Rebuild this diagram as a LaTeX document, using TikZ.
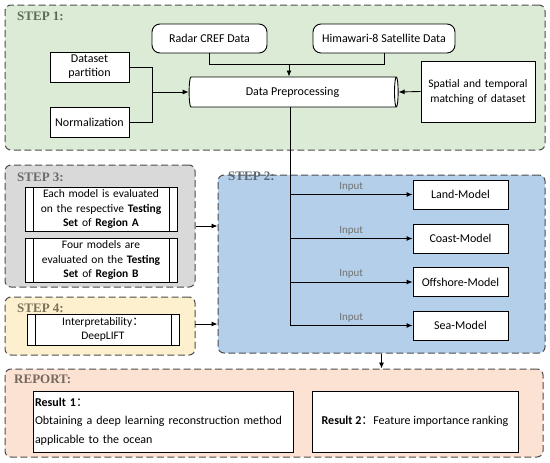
\documentclass[tikz,border=0pt]{standalone}
\usepackage{fontspec}
\setmainfont{Carlito}
\newfontfamily\titlefont{Liberation Serif}
\newfontfamily\cjk{Noto Sans CJK SC}
\usetikzlibrary{calc,arrows.meta,positioning,shapes.geometric}
\tikzstyle{arrow} = [line width=0.9pt,->,>={Latex[length=6pt,width=5pt]}]
\tikzstyle{panel} = [draw=black!70, line width=1pt, dash pattern=on 7pt off 3.5pt, rounded corners=6pt, inner sep=0pt]
\tikzstyle{box} = [draw, line width=0.9pt, fill=white, inner sep=2pt, align=center]
\tikzstyle{proc} = [box, font=\fontsize{11.5}{14.5}\selectfont, path picture={
    \draw[line width=0.9pt] ([xshift=8pt]path picture bounding box.north west) -- ([xshift=8pt]path picture bounding box.south west)
    ([xshift=-8pt]path picture bounding box.north east) -- ([xshift=-8pt]path picture bounding box.south east);}]
\tikzstyle{steptitle} = [anchor=base west, inner sep=0pt, font=\titlefont\bfseries\fontsize{13}{15}\selectfont]
\tikzstyle{inputlbl} = [above, inner sep=3pt, text=black!55, font=\fontsize{11}{12}\selectfont]
\definecolor{stepgreen}{HTML}{DCEBD6}
\definecolor{stepgray}{HTML}{D9D9D9}
\definecolor{stepyellow}{HTML}{FDF0CF}
\definecolor{stepblue}{HTML}{B4CFEA}
\definecolor{steporange}{HTML}{FCE2D2}
\definecolor{titlegreen}{HTML}{5E6B5A}
\definecolor{titlegray}{HTML}{6B6B6B}
\definecolor{titleyellow}{HTML}{7B7159}
\definecolor{titleblue}{HTML}{5C6670}
\definecolor{titleorange}{HTML}{76675F}

\begin{document}
\begin{tikzpicture}[x=1pt, y=-1pt, font=\fontsize{12}{15}\selectfont]

    \useasboundingbox (0,0) rectangle (550,463);

    % panels
    \node[panel, fill=stepgreen, minimum width=540, minimum height=145] (S1) at (275,77.5) {};
    \node[panel, fill=stepgray, minimum width=190, minimum height=122] (S3) at (100,226) {};
    \node[panel, fill=stepyellow, minimum width=190, minimum height=58] (S4) at (100,326) {};
    \node[panel, fill=stepblue, minimum width=327, minimum height=178] (S2) at (381.5,264) {};
    \node[panel, fill=steporange, minimum width=538, minimum height=88] (R) at (274,413) {};

    \node[steptitle, text=titlegreen] (T1) at (17,20) {STEP 1:};
    \node[steptitle, text=titlegray] (T3) at (17,181) {STEP 3:};
    \node[steptitle, text=titleyellow] (T4) at (17,312) {STEP 4:};
    \node[steptitle, text=titleblue] (T2) at (228,180) {STEP 2:};
    \node[steptitle, text=titleorange] (TR) at (14,383) {REPORT:};

    % step 1
    \node[box, rounded corners=8pt, minimum width=115, minimum height=29] (radar) at (209.5,38.5) {Radar CREF Data};
    \node[box, rounded corners=8pt, minimum width=142, minimum height=29] (hima) at (384,38.5) {Himawari-8 Satellite Data};
    \node[draw, line width=0.9pt, fill=white, cylinder, shape border rotate=0, aspect=0.35,
          minimum width=30, minimum height=209, inner sep=0pt] (prep) at (292.5,92) {Data Preprocessing};
    \node[box, minimum width=79, minimum height=30, text width=72, font=\fontsize{12}{14}\selectfont] (part) at (89.5,67) {Dataset\\partition};
    \node[box, minimum width=79, minimum height=30] (norm) at (89.5,122) {Normalization};
    \node[box, minimum width=114, minimum height=61, text width=110, font=\fontsize{11.5}{15}\selectfont] (spat) at (478,91.5) {Spatial and temporal\\matching of dataset};

    \coordinate (J1) at (152,92);
    \coordinate (J2) at (289,64);
    \draw[line width=0.9pt] (part.east) -| (J1);
    \draw[line width=0.9pt] (norm.east) -| (J1);
    \draw[arrow] (J1) -- (prep.west);
    \draw[line width=0.9pt] (radar.south) |- (J2);
    \draw[line width=0.9pt] (hima.south) |- (J2);
    \draw[arrow] (J2) -- (J2 |- prep.north);
    \draw[arrow] (spat.west) -- (prep.east);

    % step 2
    \node[box, minimum width=95, minimum height=29] (land) at (460.5,194.5) {Land-Model};
    \node[box, minimum width=95, minimum height=29] (coast) at (460.5,238.5) {Coast-Model};
    \node[box, minimum width=95, minimum height=29] (off) at (460.5,282) {Offshore-Model};
    \node[box, minimum width=95, minimum height=29] (sea) at (460.5,325.5) {Sea-Model};

    \coordinate (P0) at (290,0 |- prep.south);
    \draw[arrow] (P0) |- (sea.west) node[pos=0.75, inputlbl] {Input};
    \foreach \m in {land,coast,off}
        \draw[arrow] (P0 |- \m.west) -- (\m.west) node[midway, inputlbl] {Input};

    % step 3 and 4
    \node[proc, minimum width=152, minimum height=44, text width=136, inner sep=0pt] (evalA) at (101,209)
        {Each model is evaluated\\on the respective \textbf{Testing}\\\textbf{Set} of \textbf{Region A}};
    \node[proc, minimum width=152, minimum height=44, text width=136, inner sep=0pt] (evalB) at (101,260)
        {Four models are\\evaluated on the \textbf{Testing}\\\textbf{Set} of \textbf{Region B}};
    \node[proc, minimum width=152, minimum height=31, text width=136, inner sep=0pt] (interp) at (103,329.5)
        {Interpretability{\cjk ：}\\DeepLIFT};

    \draw[arrow] (S3.east) -- (S2.west |- S3.east);
    \draw[arrow] (195,324) coordinate (S4a) -- (S2.west |- S4a);
    \draw[arrow] (S2.south) -- (R.north -| S2.south);

    % report
    \node[box, minimum width=260, minimum height=61, text width=256, align=left, inner sep=1.5pt,
          font=\fontsize{12}{18.5}\selectfont] (res1) at (163,421.5)
        {\textbf{Result 1}{\cjk ：}\\Obtaining a deep learning reconstruction method\\applicable to the ocean};
    \node[box, minimum width=206, minimum height=61] (res2) at (415,421.5)
        {\textbf{Result 2}{\cjk ：}Feature importance ranking};

\end{tikzpicture}
\end{document}
